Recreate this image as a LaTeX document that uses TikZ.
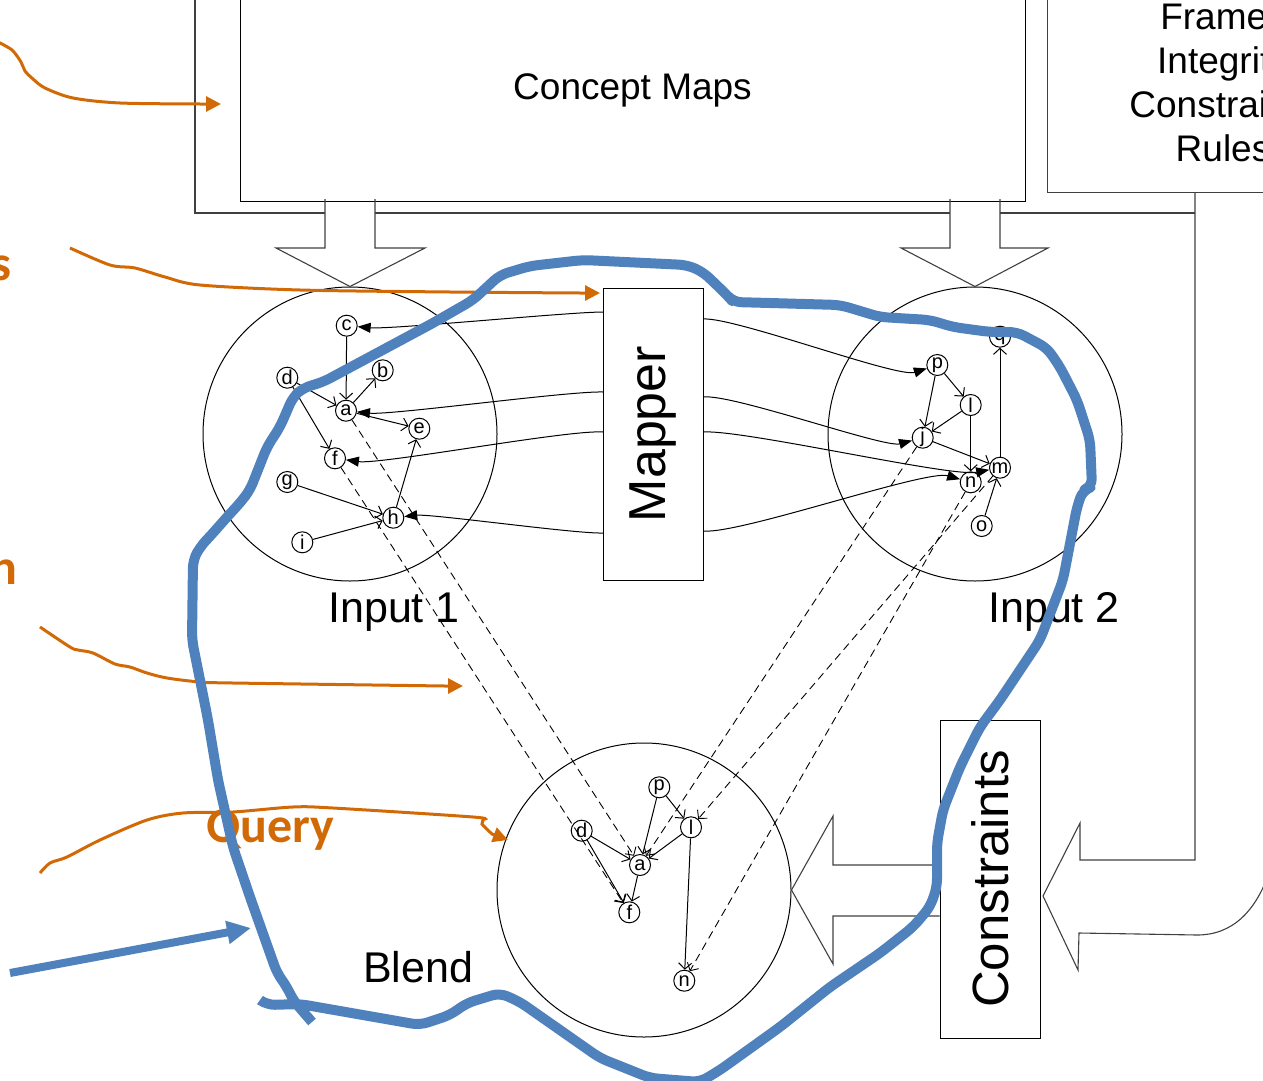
\documentclass[tikz,border=0pt]{standalone}
\usepackage{fontspec}
\setmainfont{Liberation Sans}
\newfontfamily\notefont{Carlito}
\usetikzlibrary{arrows.meta}
\definecolor{noteorange}{RGB}{209,106,6}
\definecolor{loopblue}{RGB}{79,129,189}

\begin{document}
\begin{tikzpicture}[x=1pt,y=-1pt,line width=1pt,
    elem/.style={circle,draw,fill=white,inner sep=0pt,minimum size=21pt,
      font=\fontsize{20}{20}\selectfont},
    space/.style={circle,draw,minimum size=294pt,inner sep=0pt},
    box/.style={draw,inner sep=0pt},
    frame/.style={draw=black!75,line width=1.1pt},
    link/.style={-{Straight Barb[length=6pt,width=13pt]}},
    maplink/.style={-{Triangle[length=13pt,width=10pt]},looseness=0.35},
    proj/.style={link,dash pattern=on 8pt off 5pt,line width=0.9pt},
    note/.style={noteorange,line width=3pt,-{Triangle[length=15pt,width=15pt]}},
    notetext/.style={noteorange,inner sep=0pt,font=\notefont\bfseries\fontsize{50}{50}\selectfont},
    big/.style={font=\fontsize{43}{50}\selectfont}]
  \clip (0,0) rectangle (1263,1081);

  % knowledge sources
  \node[box,minimum width=785pt,minimum height=222pt,font=\fontsize{37}{44}\selectfont] (cmaps) at (632.5,90) {Concept Maps};
  \node[box,draw=black!75,minimum width=352pt,minimum height=218pt,align=center,font=\fontsize{37}{44}\selectfont] (frames) at (1223,83) {Frames\\Integrity\\Constraints\\Rules};

  % mental spaces
  \node[space] (in1) at (350,434) {};
  \node[space] (in2) at (975,434) {};
  \node[space] (blend) at (644,890) {};
  \node[big] (in1lbl) at (394,612) {Input 1};
  \node[big] (in2lbl) at (1054,612) {Input 2};
  \node[big] (blendlbl) at (418,967) {Blend};

  \node[box,minimum width=100pt,minimum height=292pt,font=\fontsize{52}{52}\selectfont] (mapper) at (653,434) {\rotatebox{90}{Mapper}};
  \node[box,minimum width=100pt,minimum height=318pt,font=\fontsize{51}{51}\selectfont] (constr) at (990,879) {\rotatebox{90}{Constraints}};

  % hollow arrows feeding the spaces
  \draw[frame] (195,-5) -- (195,213) -- (325,213);
  \draw[frame] (325,199) -- (325,248) -- (276,248) -- (in1.north) -- (425,248) -- (375,248) -- (375,199);
  \draw[frame] (375,213) -- (950,213);
  \draw[frame] (950,199) -- (950,248) -- (901,248) -- (in2.north) -- (1048,248) -- (1000,248) -- (1000,199);
  \draw[frame] (1000,213) -- (1195,213);
  \draw[frame] (frames.south -| 1195,0) -- (1195,860) -- (1080,860) -- (1080,823) -- (1043,896)
    -- (1078,970) -- (1079,933) -- (1197,935) .. controls (1232,935) and (1256,912) .. (1270,870);
  \draw[frame] (constr.west |- 0,865) -- (833,865) -- (833,816) -- (blend.east) -- (833,964) -- (833,916) -- (constr.west |- 0,916);

  % input 1
  \node[elem] (c1) at (346.7,325.7) {c};
  \node[elem] (d1) at (287.3,377.7) {d};
  \node[elem] (b1) at (382.7,370.3) {b};
  \node[elem] (a1) at (346,410.7) {a};
  \node[elem] (e1) at (419.3,428.7) {e};
  \node[elem] (f1) at (335,458.3) {f};
  \node[elem] (g1) at (287.3,482) {g};
  \node[elem] (h1) at (393.3,517.7) {h};
  \node[elem] (i1) at (302.3,542.3) {i};
  \draw[link] (c1) -- (a1);
  \draw[link] (a1) -- (b1);
  \draw[link] (d1) -- (a1);
  \draw[link] (a1) -- (e1);
  \draw[link] (d1) -- (f1);
  \draw[link] (g1) -- (h1);
  \draw[link] (i1) -- (h1);
  \draw[link] (h1) -- (e1);

  % input 2
  \node[elem] (p2) at (937.3,365) {p};
  \node[elem] (l2) at (970.7,405) {l};
  \node[elem] (j2) at (922.7,437.7) {j};
  \node[elem] (q2) at (1000,336.7) {q};
  \node[elem] (m2) at (1000,467.7) {m};
  \node[elem] (n2) at (970.7,482.3) {n};
  \node[elem] (o2) at (981.7,526) {o};
  \draw[link] (p2) -- (j2);
  \draw[link] (p2) -- (l2);
  \draw[link] (l2) -- (j2);
  \draw[link] (l2) -- (n2);
  \draw[link] (j2) -- (m2);
  \draw[link] (m2) -- (q2);
  \draw[link] (o2) -- (m2);

  % blend
  \node[elem] (pb) at (659.3,787.3) {p};
  \node[elem] (db) at (581.7,830.7) {d};
  \node[elem] (lb) at (691,827.3) {l};
  \node[elem] (ab) at (640,865) {a};
  \node[elem] (fb) at (629.3,912.3) {f};
  \node[elem] (nb) at (684.3,980.7) {n};
  \draw[link] (pb) -- (ab);
  \draw[link] (pb) -- (lb);
  \draw[link] (lb) -- (ab);
  \draw[link] (lb) -- (nb);
  \draw[link] (db) -- (ab);
  \draw[link] (db) -- (fb);
  \draw[link] (ab) -- (fb);

  % projections into the blend
  \draw[proj] (a1) -- (ab);
  \draw[proj] (f1) -- (fb);
  \draw[proj] (j2) -- (ab);
  \draw[proj] (m2) -- (lb);
  \draw[proj] (n2) -- (nb);

  % mapper links
  \coordinate (ml1) at (603,312);
  \coordinate (ml2) at (603,392);
  \coordinate (ml3) at (603,432);
  \coordinate (ml4) at (603,533);
  \coordinate (mr1) at (703,319);
  \coordinate (mr2) at (703,397);
  \coordinate (mr3) at (703,432);
  \coordinate (mr4) at (703,531);
  \draw[maplink] (ml1) to[out=180,in=-5] (c1);
  \draw[maplink] (ml2) to[out=178,in=-6] (a1);
  \draw[maplink] (ml3) to[out=176,in=-8] (f1);
  \draw[maplink] (ml4) to[out=182,in=6] (h1);
  \draw[maplink] (mr1) to[out=4,in=198] (p2);
  \draw[maplink] (mr2) to[out=7,in=195] (j2);
  \draw[maplink] (mr3) to[out=4,in=191] (m2);
  \draw[maplink] (mr4) to[out=-6,in=164] (n2);

  % annotations
  \node[notetext,anchor=east] (sfrag) at (12,268) {s};
  \node[notetext,anchor=east] (nfrag) at (18,572) {n};
  \node[notetext] (query) at (270,830) {Query};
  \coordinate (tip1) at (221,104);
  \coordinate (tip2) at (600,293);
  \coordinate (tip3) at (463,686);
  \coordinate (tip4) at (508,840);
  \draw[note] plot[smooth,tension=0.5] coordinates {(-2,42) (12,50) (21,62) (25,71) (33,79) (45,88) (73,98) (120,103) (200,104)} -- (tip1);
  \draw[note] plot[smooth,tension=0.5] coordinates {(70,248) (110,265) (135,268) (165,277) (200,285) (300,290) (450,292) (580,293)} -- (tip2);
  \draw[note] plot[smooth,tension=0.5] coordinates {(40,627) (70,647) (78,650) (93,653) (115,664) (130,667) (147,673) (167,678) (200,682) (233,683) (445,686)} -- (tip3);
  \draw[note] plot[smooth,tension=0.5] coordinates {(40,873) (50,863) (67,857) (100,840) (147,820) (183,813) (233,812) (293,807) (333,808) (473,817) (483,820) (482,824) (492,834)} -- (tip4);

  % the sketched loop
  \coordinate (btail) at (10,973);
  \coordinate (bhead) at (251,928);
  \draw[loopblue,line width=8pt,-{Triangle[length=24pt,width=22pt]}] (btail) -- (bhead);
  \draw[loopblue,line width=10pt,line join=round,rounded corners=8pt]
    (260,1000) -- (267,1005) -- (300,1004) -- (420,1025) -- (450,1015) -- (467,1003) -- (500,993)
    -- (520,1002) -- (600,1058) -- (650,1078) -- (700,1082) -- (720,1070) -- (780,1027) -- (830,987)
    -- (880,953) -- (913,927) -- (930,907) -- (937,887) -- (937,843) -- (943,810) -- (960,767)
    -- (980,727) -- (1000,700) -- (1040,640) -- (1063,580) -- (1077,507) -- (1083,490) -- (1092,487)
    -- (1090,440) -- (1077,400) -- (1060,367) -- (1047,348) -- (1017,332) -- (990,332) -- (953,327)
    -- (930,320) -- (880,317) -- (857,310) -- (840,305) -- (770,303) -- (733,302) -- (727,295)
    -- (703,272) -- (687,265) -- (583,260) -- (530,266) -- (500,275) -- (487,287) -- (473,300)
    -- (433,323) -- (323,382) -- (303,388) -- (293,397) -- (280,427) -- (267,447) -- (250,490)
    -- (240,503) -- (227,517) -- (213,533) -- (200,547) -- (193,560) -- (192,640) -- (208,720)
    -- (218,780) -- (233,847) -- (250,897) -- (277,973) -- (287,987) -- (293,1000) -- (312,1022);
\end{tikzpicture}
\end{document}
